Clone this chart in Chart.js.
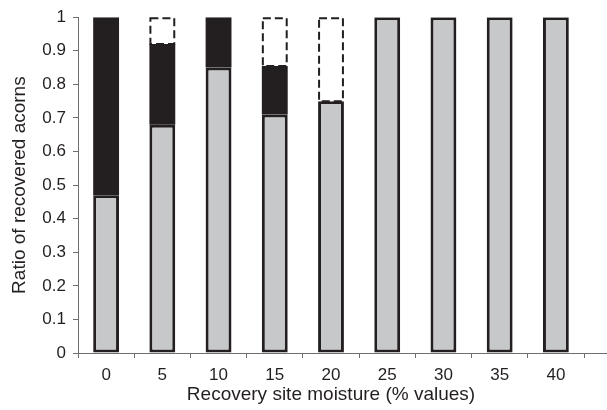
<!DOCTYPE html>
<html>
<head>
<meta charset="utf-8">
<script src="https://cdn.jsdelivr.net/npm/chart.js@4.4.1/dist/chart.umd.min.js"></script>
<style>
  html, body { margin: 0; padding: 0; background: #fff; }
  #myChart { display: block; }
</style>
</head>
<body>
<canvas id="myChart" width="607" height="410"></canvas>
<script>
// categories and series
const categories = ['0', '5', '10', '15', '20', '25', '30', '35', '40'];
const greySeries = [0.47, 0.68, 0.85, 0.71, 0.75, 1, 1, 1, 1];
const blackSeries = [0.53, 0.24, 0.15, 0.145, 0, 0, 0, 0, 0];
const dashedSeries = [0, 0.08, 0, 0.145, 0.25, 0, 0, 0, 0];
const yTickLabels = ['0', '0.1', '0.2', '0.3', '0.4', '0.5', '0.6', '0.7', '0.8', '0.9', '1'];

const ink = '#231f20';
const axisGrey = '#6d6e71';
const font = 'Liberation Sans, Arial, sans-serif';

// dashed outline for the third (empty) segment
const dashedBoxes = {
  id: 'dashedBoxes',
  afterDatasetsDraw(chart) {
    const meta = chart.getDatasetMeta(2);
    const ctx = chart.ctx;
    ctx.save();
    ctx.strokeStyle = ink;
    ctx.lineWidth = 2;
    ctx.setLineDash([8, 4]);
    meta.data.forEach((bar, i) => {
      if (!dashedSeries[i]) return;
      const p = bar.getProps(['x', 'y', 'base', 'width'], true);
      ctx.strokeRect(p.x - p.width / 2 + 1, p.y + 1, p.width - 2, p.base - p.y - 1);
    });
    ctx.restore();
  }
};

// the x axis line runs on to the right edge
const axisRun = {
  id: 'axisRun',
  afterDraw(chart) {
    const ctx = chart.ctx;
    const y = chart.scales.x.top + 0.5;
    ctx.save();
    ctx.strokeStyle = axisGrey;
    ctx.lineWidth = 1;
    ctx.beginPath();
    ctx.moveTo(chart.chartArea.right, y);
    ctx.lineTo(chart.width, y);
    ctx.stroke();
    ctx.restore();
  }
};

const ctx = document.getElementById('myChart').getContext('2d');
const myChart = new Chart(ctx, {
  type: 'bar',
  data: {
    labels: categories,
    datasets: [{
      data: greySeries,
      backgroundColor: '#c7c8ca',
      borderColor: ink,
      borderWidth: 3,
      borderSkipped: false
    }, {
      data: blackSeries,
      backgroundColor: ink,
      borderColor: ink,
      borderWidth: 0
    }, {
      data: dashedSeries,
      backgroundColor: '#ffffff',
      borderWidth: 0
    }]
  },
  options: {
    responsive: false,
    animation: false,
    layout: { padding: { top: 17, right: 23, bottom: 0, left: 0 } },
    datasets: {
      bar: { categoryPercentage: 1, barPercentage: 0.46 }
    },
    plugins: {
      legend: { display: false },
      tooltip: { enabled: false }
    },
    scales: {
      x: {
        stacked: true,
        afterFit(scale) { scale.height = 57; },
        grid: { drawOnChartArea: false, tickLength: 5, color: axisGrey },
        border: { color: axisGrey },
        ticks: { color: ink, font: { family: font, size: 17 }, padding: 7 },
        title: {
          display: true,
          text: 'Recovery site moisture (% values)',
          color: ink,
          font: { family: font, size: 19 },
          padding: { top: 0, bottom: 3.6 }
        }
      },
      y: {
        stacked: true,
        min: 0,
        max: 1,
        afterFit(scale) { scale.width = 78; },
        grid: { drawOnChartArea: false, tickLength: 5, color: axisGrey },
        border: { color: axisGrey },
        ticks: {
          stepSize: 0.1,
          color: ink,
          font: { family: font, size: 17 },
          padding: 7,
          callback: (v, i) => yTickLabels[i]
        },
        title: {
          display: true,
          text: 'Ratio of recovered acorns',
          color: ink,
          font: { family: font, size: 19 },
          padding: { top: 8.6, bottom: 0 }
        }
      }
    }
  },
  plugins: [dashedBoxes, axisRun]
});
</script>
</body>
</html>
